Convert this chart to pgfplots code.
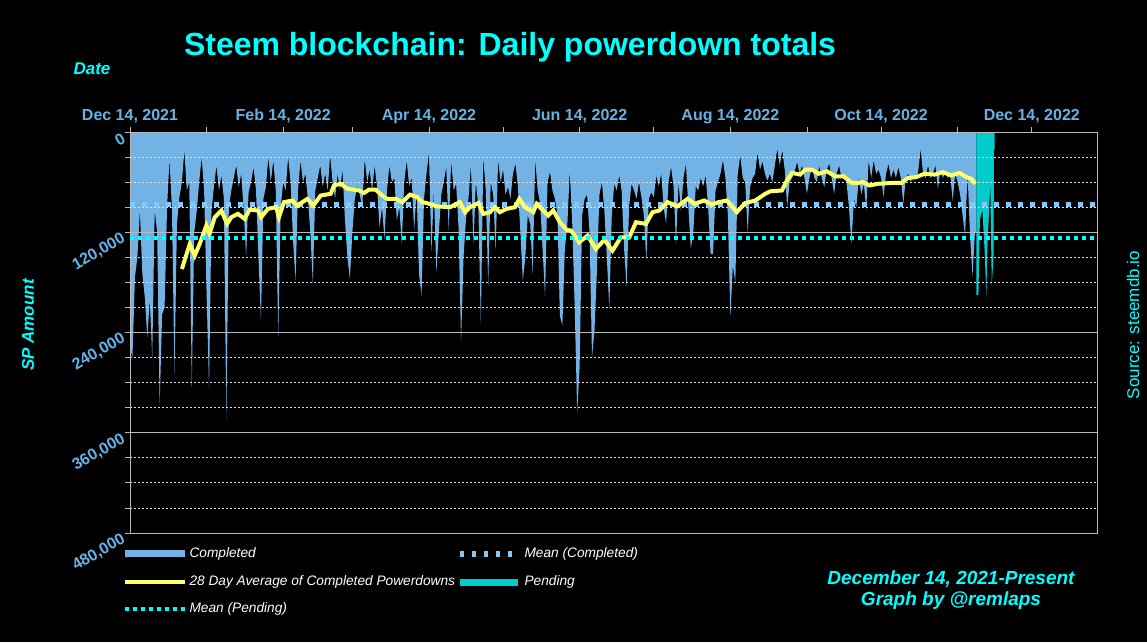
\documentclass[border=0pt]{standalone}
\usepackage{pgfplots}
\pgfplotsset{compat=1.18}
\usepackage{pgfplotstable}
\usepackage{fontspec}
\setmainfont{Liberation Sans}
\definecolor{cfill}{RGB}{115,178,228}
\definecolor{cmeanc}{RGB}{135,200,250}
\definecolor{cpend}{RGB}{0,204,204}
\definecolor{cyel}{RGB}{255,255,102}
\definecolor{ccyan}{RGB}{0,255,255}
\definecolor{ctick}{RGB}{102,178,230}
\definecolor{cgrid}{RGB}{185,185,185}
\definecolor{cminor}{RGB}{225,225,225}

\pgfplotstableread[row sep=\\]{
day val\\
0 258\\ 1 270\\ 2 174\\ 3 150\\ 4 94\\ 5 170\\ 6 198\\ 7 246\\ 8 200\\ 9 270\\
10 94\\ 11 120\\ 12 328\\ 13 218\\ 14 210\\ 15 90\\ 16 32\\ 17 94\\ 18 290\\ 19 110\\
20 78\\ 21 60\\ 22 22\\ 23 70\\ 24 60\\ 25 306\\ 26 120\\ 27 95\\ 28 60\\ 29 30\\
30 70\\ 31 194\\ 32 307\\ 33 94\\ 34 65\\ 35 40\\ 36 70\\ 37 52\\ 38 80\\ 39 345\\
40 90\\ 41 70\\ 42 55\\ 43 40\\ 44 66\\ 45 50\\ 46 92\\ 47 150\\ 48 72\\ 49 60\\
50 42\\ 51 70\\ 52 150\\ 53 226\\ 54 80\\ 55 66\\ 56 30\\ 57 60\\ 58 34\\ 59 70\\
60 245\\ 61 90\\ 62 60\\ 63 70\\ 64 30\\ 65 60\\ 66 130\\ 67 178\\ 68 70\\ 69 34\\
70 60\\ 71 50\\ 72 80\\ 73 120\\ 74 182\\ 75 70\\ 76 55\\ 77 40\\ 78 65\\ 79 50\\
80 70\\ 81 28\\ 82 60\\ 83 80\\ 84 50\\ 85 70\\ 86 45\\ 87 105\\ 88 150\\ 89 176\\
90 120\\ 91 80\\ 92 65\\ 93 75\\ 94 90\\ 95 32\\ 96 60\\ 97 45\\ 98 70\\ 99 40\\
100 66\\ 101 114\\ 102 90\\ 103 128\\ 104 70\\ 105 40\\ 106 60\\ 107 55\\ 108 106\\ 109 90\\
110 134\\ 111 60\\ 112 34\\ 113 65\\ 114 54\\ 115 118\\ 116 70\\ 117 170\\ 118 196\\ 119 80\\
120 50\\ 121 25\\ 122 144\\ 123 70\\ 124 168\\ 125 120\\ 126 75\\ 127 60\\ 128 42\\ 129 118\\
130 34\\ 131 70\\ 132 62\\ 133 115\\ 134 252\\ 135 150\\ 136 104\\ 137 80\\ 138 40\\ 139 135\\
140 60\\ 141 90\\ 142 230\\ 143 30\\ 144 70\\ 145 184\\ 146 60\\ 147 75\\ 148 142\\ 149 33\\
150 60\\ 151 45\\ 152 75\\ 153 66\\ 154 80\\ 155 50\\ 156 38\\ 157 65\\ 158 120\\ 159 178\\
160 150\\ 161 100\\ 162 110\\ 163 170\\ 164 32\\ 165 70\\ 166 85\\ 167 140\\ 168 198\\ 169 60\\
170 48\\ 171 70\\ 172 80\\ 173 98\\ 174 220\\ 175 232\\ 176 140\\ 177 112\\ 178 46\\ 179 110\\
180 210\\ 181 336\\ 182 280\\ 183 100\\ 184 80\\ 185 75\\ 186 120\\ 187 270\\ 188 238\\ 189 166\\
190 75\\ 191 60\\ 192 94\\ 193 150\\ 194 212\\ 195 100\\ 196 62\\ 197 70\\ 198 52\\ 199 70\\
200 140\\ 201 186\\ 202 90\\ 203 62\\ 204 70\\ 205 80\\ 206 60\\ 207 78\\ 208 100\\ 209 154\\
210 80\\ 211 72\\ 212 78\\ 213 52\\ 214 65\\ 215 50\\ 216 90\\ 217 110\\ 218 60\\ 219 42\\
220 65\\ 221 135\\ 222 60\\ 223 95\\ 224 55\\ 225 38\\ 226 90\\ 227 140\\ 228 120\\ 229 65\\
230 70\\ 231 55\\ 232 65\\ 233 52\\ 234 90\\ 235 146\\ 236 146\\ 237 70\\ 238 60\\ 239 50\\
240 34\\ 241 55\\ 242 100\\ 243 222\\ 244 160\\ 245 180\\ 246 50\\ 247 28\\ 248 55\\ 249 60\\
250 120\\ 251 65\\ 252 55\\ 253 50\\ 254 25\\ 255 45\\ 256 35\\ 257 50\\ 258 58\\ 259 50\\
260 60\\ 261 40\\ 262 20\\ 263 40\\ 264 22\\ 265 45\\ 266 90\\ 267 60\\ 268 55\\ 269 48\\
270 36\\ 271 50\\ 272 40\\ 273 55\\ 274 74\\ 275 55\\ 276 42\\ 277 55\\ 278 60\\ 279 40\\
280 55\\ 281 66\\ 282 45\\ 283 38\\ 284 55\\ 285 74\\ 286 50\\ 287 40\\ 288 55\\ 289 52\\
290 60\\ 291 90\\ 292 134\\ 293 80\\ 294 90\\ 295 55\\ 296 75\\ 297 62\\ 298 92\\ 299 34\\
300 55\\ 301 34\\ 302 50\\ 303 45\\ 304 55\\ 305 78\\ 306 50\\ 307 38\\ 308 55\\ 309 45\\
310 55\\ 311 42\\ 312 55\\ 313 86\\ 314 55\\ 315 50\\ 316 60\\ 317 52\\ 318 55\\ 319 48\\
320 20\\ 321 50\\ 322 55\\ 323 40\\ 324 55\\ 325 50\\ 326 40\\ 327 68\\ 328 45\\ 329 55\\
330 48\\ 331 55\\ 332 52\\ 333 82\\ 334 50\\ 335 60\\ 336 75\\ 337 100\\ 338 124\\ 339 50\\
340 123\\ 341 173\\ 342 120\\ 342.6 120\\
}\completed

\pgfplotstableread[row sep=\\]{
day val\\
342.6 195\\ 343.4 195\\ 344 105\\ 345 93\\ 346 147\\ 346.6 198\\ 347 140\\ 347.6 101\\ 348.2 60\\ 348.8 184\\ 349.5 150\\ 349.7 21\\ 350 21\\
}\pending

\pgfplotstableread[row sep=\\]{
day val\\
21.0 164\\ 24.2 134\\ 26.2 148\\ 28.2 134\\ 30.9 112\\ 32.2 122\\ 34.3 102\\ 37.0 94\\ 39.3 110\\ 41.0 102\\
43.7 98\\ 46.4 104\\ 48.4 93\\ 51.8 94\\ 53.1 102\\ 55.8 92\\ 59.1 90\\ 60.3 102\\ 62.3 84\\ 65.7 82\\
67.7 88\\ 71.8 80\\ 74.2 88\\ 77.2 76\\ 81.2 74\\ 82.6 64\\ 85.3 62\\ 88.0 68\\ 92.7 70\\ 94.7 73\\
96.7 69\\ 99.4 69\\ 102.1 76\\ 104.1 80\\ 107.5 80\\ 110.2 84\\ 113.3 75\\ 116.3 78\\ 118.2 84\\ 120.1 85\\
124.1 89\\ 129.5 90\\ 133.5 84\\ 135.6 96\\ 137.6 90\\ 141.0 85\\ 143.0 98\\ 145.7 96\\ 147.7 90\\ 149.7 96\\
152.4 92\\ 155.8 90\\ 157.6 80\\ 159.9 90\\ 163.2 96\\ 164.6 86\\ 169.3 100\\ 171.3 94\\ 174.0 108\\ 176.7 117\\
178.5 118\\ 181.8 132\\ 185.2 124\\ 188.6 140\\ 192.0 129\\ 195.3 142\\ 198.7 126\\ 202.1 126\\ 204.8 108\\ 208.8 110\\
211.5 96\\ 214.2 94\\ 217.6 84\\ 221.6 89\\ 225.7 80\\ 228.4 86\\ 232.4 82\\ 235.5 87\\ 238.2 84\\ 241.6 82\\
245.6 96\\ 249.0 85\\ 253.1 82\\ 257.1 74\\ 259.1 71\\ 263.9 70\\ 265.9 58\\ 267.9 49\\ 271.3 51\\ 273.3 45\\
276.0 45\\ 278.7 50\\ 282.1 47\\ 285.4 53\\ 288.8 53\\ 292.2 61\\ 294.6 61\\ 296.6 60\\ 299.3 64\\ 302.7 62\\
308.1 61\\ 312.2 61\\ 314.9 55\\ 318.2 54\\ 321.6 50\\ 325.7 51\\ 329.0 48\\ 332.4 52\\ 335.8 49\\ 338.5 54\\
340.5 56\\ 342.1 62\\
}\avg

\pgfplotsset{
  common/.style={
    at={(130pt,109pt)}, anchor=south west,
    scale only axis, width=967pt, height=401pt,
    y dir=reverse,
    xmin=0, xmax=391.4, ymin=0, ymax=480,
  }
}

\begin{document}
\begin{tikzpicture}[x=1pt,y=1pt]
\fill[black] (0,0) rectangle (1147,642);
\begin{axis}[
  common,
  axis on top,
  axis line style={cgrid, line width=1pt},
  tick align=outside,
  major tick length=5pt, minor tick length=5pt,
  tick style={cgrid, line width=0.8pt},
  xtick={0,62,121,182,243,304,365},
  xticklabels={{Dec 14, 2021},{Feb 14, 2022},{Apr 14, 2022},{Jun 14, 2022},{Aug 14, 2022},{Oct 14, 2022},{Dec 14, 2022}},
  minor xtick={31,90,151,212,274,335},
  xtick pos=upper,
  ytick={0,120,240,360,480},
  yticklabels={0,{120,000},{240,000},{360,000},{480,000}},
  minor ytick={30,60,90,150,180,210,270,300,330,390,420,450},
  ytick pos=left,
  ymajorgrids, yminorgrids,
  major grid style={cgrid, line width=1pt},
  minor grid style={cminor, line width=0.8pt, dash pattern=on 2pt off 2pt},
  xticklabel style={font=\fontsize{16}{19}\selectfont\bfseries, text=ctick},
  yticklabel style={font=\fontsize{16}{19}\selectfont\bfseries, text=ctick, rotate=30, anchor=east, yshift=-4pt},
]
\addplot[fill=cfill, draw=none] table[x=day,y=val] {\completed} \closedcycle;
\addplot[fill=cpend, draw=none] table[x=day,y=val] {\pending} \closedcycle;
\end{axis}
\begin{axis}[common, hide axis]
\addplot[cmeanc, line width=5.5pt, dash pattern=on 5pt off 7pt] coordinates {(0,87) (391.4,87)};
\addplot[cyel, line width=4pt] table[x=day,y=val] {\avg};
\addplot[ccyan, line width=3.5pt, dash pattern=on 4pt off 4pt] coordinates {(0,126.6) (391.4,126.6)};
\end{axis}
% titles
\node[text=ccyan, font=\fontsize{32}{37}\selectfont\bfseries] at (510,595) {Steem blockchain: Daily powerdown totals};
\node[text=ccyan, font=\fontsize{17}{20}\selectfont\bfseries\itshape] at (92,573) {Date};
\node[text=ccyan, font=\fontsize{17}{20}\selectfont\bfseries\itshape, rotate=90] at (28,317) {SP Amount};
\node[text=ccyan, font=\fontsize{17}{20}\selectfont, rotate=90] at (1133,317) {Source: steemdb.io};
% legend
\fill[cfill] (125,84.5) rectangle (185,91.5);
\node[text=white, anchor=west, font=\fontsize{13.7}{16}\selectfont\itshape] at (186,88) {Completed};
\draw[cmeanc, line width=5.5pt, dash pattern=on 4pt off 8pt] (460,88) -- (518,88);
\node[text=white, anchor=west, font=\fontsize{13.7}{16}\selectfont\itshape] at (521,88) {Mean (Completed)};
\draw[cyel, line width=4pt] (125,60) -- (185,60);
\node[text=white, anchor=west, font=\fontsize{13.7}{16}\selectfont\itshape] at (186,60) {28 Day Average of Completed Powerdowns};
\fill[cpend] (460,56.5) rectangle (518,63.5);
\node[text=white, anchor=west, font=\fontsize{13.7}{16}\selectfont\itshape] at (521,60) {Pending};
\draw[ccyan, line width=3.5pt, dash pattern=on 4pt off 4pt] (125,33) -- (185,33);
\node[text=white, anchor=west, font=\fontsize{13.7}{16}\selectfont\itshape] at (186,33) {Mean (Pending)};
% footer
\node[text=ccyan, font=\fontsize{19}{22}\selectfont\bfseries\itshape, align=center] at (951,52) {December 14, 2021-Present\\[-1pt]Graph by @remlaps};
\end{tikzpicture}
\end{document}
